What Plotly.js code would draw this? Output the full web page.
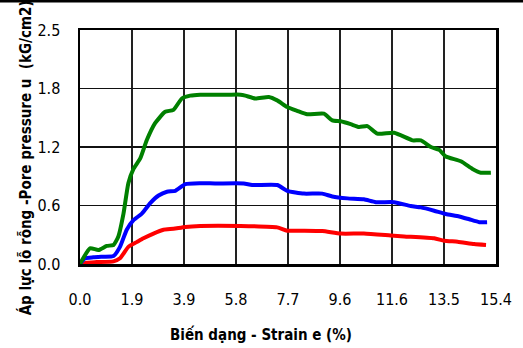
<!DOCTYPE html>
<html><head><meta charset="utf-8">
<script src="https://cdn.plot.ly/plotly-3.0.1.min.js"></script>
<style>html,body{margin:0;padding:0;background:#fff;}#c{width:523px;height:348px;}</style>
</head><body><div id="c"></div>
<script>
var xTickLabels = ['0.0','1.9','3.9','5.8','7.7','9.6','11.6','13.5','15.4'];
var xTickStep = 1.925;
var yTickLabels = ['0.0','0.6','1.2','1.8','2.5'];
var yTickStep = 0.615;

var greenX = [0,0.37,0.68,0.99,1.24,1.42,1.61,1.79,1.98,2.23,2.47,2.78,3.15,3.46,3.77,4.08,4.45,5.0,5.5,5.94,6.12,6.49,6.99,7.30,7.67,8.04,8.41,9.03,9.34,9.65,10.02,10.33,10.64,11.01,11.63,12.31,12.62,12.99,13.30,13.54,14.10,14.53,14.84,15.21];
var greenY = [0,0.165,0.147,0.19,0.20,0.29,0.53,0.85,1.0,1.11,1.30,1.48,1.60,1.62,1.74,1.77,1.78,1.78,1.78,1.78,1.77,1.74,1.755,1.72,1.65,1.61,1.574,1.58,1.51,1.50,1.47,1.44,1.45,1.37,1.38,1.30,1.30,1.23,1.20,1.13,1.08,1.00,0.96,0.96];

var blueX = [0,0.19,0.49,0.86,1.24,1.48,1.73,1.98,2.29,2.60,2.91,3.22,3.53,3.90,4.45,5.0,6.06,6.37,7.30,7.67,8.29,8.97,9.34,9.90,10.51,10.95,11.63,12.24,12.62,13.11,13.54,14.04,14.41,14.78,15.07];
var blueY = [0,0.06,0.07,0.077,0.084,0.18,0.36,0.46,0.53,0.64,0.72,0.76,0.77,0.84,0.85,0.847,0.847,0.83,0.83,0.77,0.74,0.74,0.71,0.69,0.68,0.65,0.65,0.61,0.595,0.56,0.525,0.50,0.47,0.44,0.44];

var redX = [0,0.25,0.62,1.24,1.48,1.79,2.10,2.35,2.72,3.09,3.46,3.90,4.45,5.94,7.30,7.67,8.29,8.97,9.65,10.51,11.50,12.0,13.11,13.48,13.98,14.59,15.03];
var redY = [0,0.014,0.02,0.028,0.06,0.18,0.23,0.27,0.32,0.36,0.37,0.39,0.40,0.40,0.385,0.35,0.35,0.346,0.32,0.32,0.30,0.29,0.27,0.245,0.234,0.21,0.20];

var xTitle = 'Biến dạng - Strain e (%)';
var yTitle = 'Áp lực lỗ rỗng -Pore pressure u  (kG/cm2)';

var xTickVals = xTickLabels.map(function(_, i){ return i * xTickStep; });
var yTickVals = yTickLabels.map(function(_, i){ return i * yTickStep; });

var FONT = '"DejaVu Sans Condensed", "Liberation Sans Narrow", "Arial Narrow", sans-serif';

function tr(x, y, c){
  return {x:x, y:y, type:'scatter', mode:'lines', line:{color:c, width:4, shape:'spline', smoothing:0.5}, hoverinfo:'skip'};
}
var data = [tr(redX, redY, '#ff0000'), tr(blueX, blueY, '#0000ff'), tr(greenX, greenY, '#008000')];

var layout = {
  width:523, height:348,
  margin:{l:80, r:27, t:30, b:84},
  paper_bgcolor:'#fff', plot_bgcolor:'#fff',
  showlegend:false,
  font:{family:FONT, size:15, color:'#000'},
  xaxis:{range:[0, xTickVals[xTickVals.length-1]], tickmode:'array', tickvals:xTickVals, ticktext:xTickLabels,
    showgrid:true, gridcolor:'#222', gridwidth:1.5, zeroline:false,
    showline:true, linecolor:'#000', linewidth:2.5, mirror:true, ticks:'', ticklabelstandoff:19,
    tickfont:{family:FONT, size:16, color:'#000'}},
  yaxis:{range:[0, yTickVals[yTickVals.length-1]], tickmode:'array', tickvals:yTickVals, ticktext:yTickLabels,
    showgrid:true, gridcolor:'#111', gridwidth:1.8, zeroline:false,
    showline:true, linecolor:'#000', linewidth:2.5, mirror:true, ticks:'', ticklabelstandoff:14,
    tickfont:{family:FONT, size:16, color:'#000'}},
  annotations:[
    {text:'<b>'+xTitle+'</b>', xref:'paper', yref:'paper', x:0.436, y:-0.303, xanchor:'center', yanchor:'middle', showarrow:false, font:{family:FONT, size:15, color:'#000'}},
    {text:'<b>'+yTitle+'</b>', xref:'paper', yref:'paper', x:-0.132, y:0.452, xanchor:'center', yanchor:'middle', textangle:-90, showarrow:false, font:{family:FONT, size:15, color:'#000'}}
  ],
  shapes:[
    {type:'line', xref:'paper', yref:'paper', x0:-0.3, x1:1.2, y0:1.124, y1:1.124, line:{color:'#000', width:3}}
  ]
};
Plotly.newPlot('c', data, layout, {staticPlot:true, displayModeBar:false});
</script></body></html>
